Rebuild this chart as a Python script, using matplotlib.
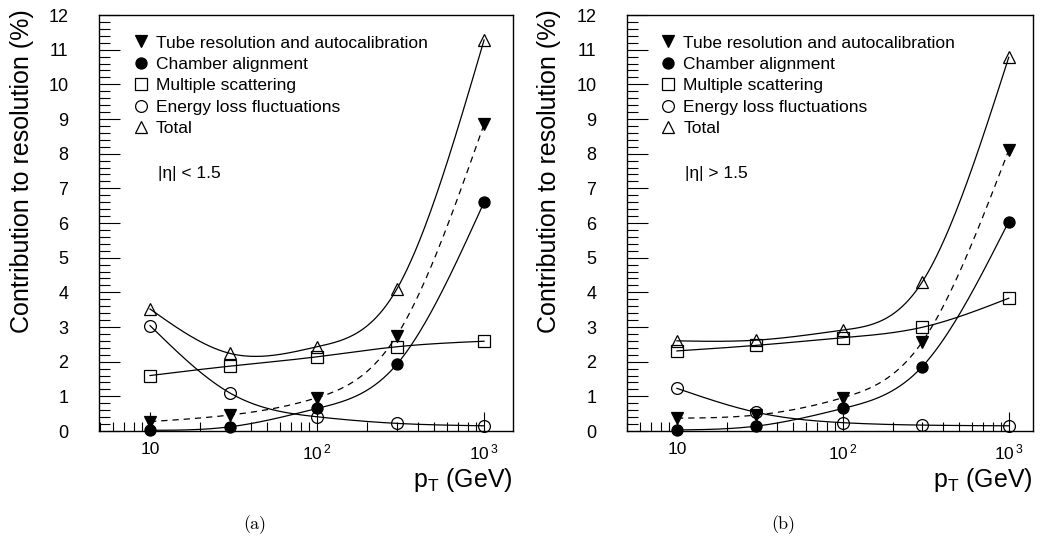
import numpy as np
import matplotlib
matplotlib.use('Agg')
import matplotlib.pyplot as plt
from matplotlib.lines import Line2D
from matplotlib.ticker import FixedLocator, FixedFormatter, NullFormatter, MultipleLocator

plt.rcParams['font.family'] = ['Liberation Sans', 'DejaVu Sans']
plt.rcParams['mathtext.fontset'] = 'custom'
plt.rcParams['mathtext.rm'] = 'Liberation Sans'
plt.rcParams['mathtext.it'] = 'Liberation Sans:italic'

# ---------------- data ----------------
pt = [10, 30, 100, 300, 1000]

# panel (a): |eta| < 1.5
tube_a = [0.27, 0.46, 0.96, 2.75, 8.85]
align_a = [0.02, 0.12, 0.65, 1.92, 6.60]
mscat_a = [1.60, 1.87, 2.14, 2.43, 2.59]
eloss_a = [3.04, 1.10, 0.41, 0.22, 0.15]
total_a = [3.52, 2.24, 2.43, 4.09, 11.28]

# panel (b): |eta| > 1.5
tube_b = [0.37, 0.46, 0.96, 2.56, 8.10]
align_b = [0.03, 0.14, 0.65, 1.85, 6.04]
mscat_b = [2.31, 2.47, 2.69, 2.99, 3.83]
eloss_b = [1.23, 0.54, 0.24, 0.17, 0.15]
total_b = [2.60, 2.62, 2.91, 4.29, 10.78]

labels = ["Tube resolution and autocalibration", "Chamber alignment",
          "Multiple scattering", "Energy loss fluctuations", "Total"]
xtick_vals = [10, 100, 1000]
xtick_labels = ["10", r"$\mathregular{10^{\,2}}$", r"$\mathregular{10^{\,3}}$"]


def smooth(x, y, n=300):
    """Natural cubic spline through the points in log10(x) (drawing only)."""
    u = np.log10(np.asarray(x, float))
    y = np.asarray(y, float)
    m = len(u)
    h = np.diff(u)
    A = np.zeros((m, m))
    r = np.zeros(m)
    A[0, 0] = A[-1, -1] = 1.0
    for i in range(1, m - 1):
        A[i, i - 1] = h[i - 1]
        A[i, i] = 2 * (h[i - 1] + h[i])
        A[i, i + 1] = h[i]
        r[i] = 3 * ((y[i + 1] - y[i]) / h[i] - (y[i] - y[i - 1]) / h[i - 1])
    c = np.linalg.solve(A, r)
    b = (y[1:] - y[:-1]) / h - h * (2 * c[:-1] + c[1:]) / 3
    d = (c[1:] - c[:-1]) / (3 * h)
    uu = np.linspace(u[0], u[-1], n)
    idx = np.clip(np.searchsorted(u, uu) - 1, 0, m - 2)
    dx = uu - u[idx]
    yy = y[idx] + b[idx] * dx + c[idx] * dx ** 2 + d[idx] * dx ** 3
    return 10 ** uu, yy


styles = [
    dict(marker='v', mfc='black', ls='--'),
    dict(marker='o', mfc='black', ls='-'),
    dict(marker='s', mfc='none', ls='-'),
    dict(marker='o', mfc='none', ls='-'),
    dict(marker='^', mfc='none', ls='-'),
]
msizes = [8, 8, 8.5, 8.5, 8.5]

fig = plt.figure(figsize=(10.47, 5.51), dpi=100)
W, H = 1047.0, 551.0

panels = [
    dict(rect=(99, 15, 513, 431), xlim=(4.95, 1490),
         series=[tube_a, align_a, mscat_a, eloss_a, total_a],
         eta="|η| < 1.5", cap="(a)", capx=255, ylabx=-0.158),
    dict(rect=(627, 15, 1033, 431), xlim=(5.0, 1400),
         series=[tube_b, align_b, mscat_b, eloss_b, total_b],
         eta="|η| > 1.5", cap="(b)", capx=783, ylabx=-0.163),
]

for p in panels:
    x0, y0, x1, y1 = p['rect']
    ax = fig.add_axes([x0 / W, 1 - y1 / H, (x1 - x0) / W, (y1 - y0) / H])
    ax.set_xscale('log')
    ax.set_xlim(*p['xlim'])
    ax.set_ylim(0, 12)

    for vals, st, ms in zip(p['series'], styles, msizes):
        xs, ys = smooth(pt, vals)
        if st['ls'] == '--':
            ax.plot(xs, ys, color='black', lw=0.9, ls='--', dashes=(5, 4))
        else:
            ax.plot(xs, ys, color='black', lw=0.9)
        ax.plot(pt, vals, ls='none', marker=st['marker'], ms=ms,
                mfc=st['mfc'], mec='black', mew=0.9, clip_on=False, zorder=5)

    # ticks
    ax.xaxis.set_major_locator(FixedLocator(xtick_vals))
    ax.xaxis.set_major_formatter(FixedFormatter(xtick_labels))
    minors = [m * 10 ** e for e in range(0, 4) for m in range(2, 10)]
    ax.xaxis.set_minor_locator(FixedLocator(minors))
    ax.xaxis.set_minor_formatter(NullFormatter())
    ax.yaxis.set_major_locator(MultipleLocator(1))
    ax.yaxis.set_minor_locator(MultipleLocator(0.2))
    ax.tick_params(which='both', direction='in', top=False, right=False,
                   width=0.8, color='black')
    ax.tick_params(axis='x', which='major', length=14, pad=8, labelsize=12.5)
    ax.tick_params(axis='x', which='minor', length=6.5)
    ax.tick_params(axis='y', which='major', length=15, pad=22, labelsize=13)
    ax.tick_params(axis='y', which='minor', length=8)
    for s in ax.spines.values():
        s.set_linewidth(1.0)

    ax.set_ylabel("Contribution to resolution (%)", fontsize=18, loc='top')
    ax.yaxis.set_label_coords(p['ylabx'], 1.015)
    ax.set_xlabel(r"$\mathregular{p_{T}}$ (GeV)", fontsize=18, loc='right')
    ax.xaxis.set_label_coords(1.0, -0.085)

    handles = [Line2D([], [], ls='none', marker=st['marker'], ms=ms,
                      mfc=st['mfc'], mec='black', mew=0.9)
               for st, ms in zip(styles, msizes)]
    ax.legend(handles, labels, loc='upper left', frameon=False,
              bbox_to_anchor=(0.085, 0.951), borderaxespad=0, borderpad=0,
              handlelength=0.8, handletextpad=0.45, labelspacing=0.36,
              fontsize=12.5)

    ax.text(0.142, 0.62, p['eta'], transform=ax.transAxes, fontsize=12.5,
            va='center', ha='left')

    fig.text(p['capx'] / W, 1 - 525 / H, p['cap'], family='cmr10',
             fontsize=13, ha='center', va='center')

fig.savefig('out.png', dpi=100)
